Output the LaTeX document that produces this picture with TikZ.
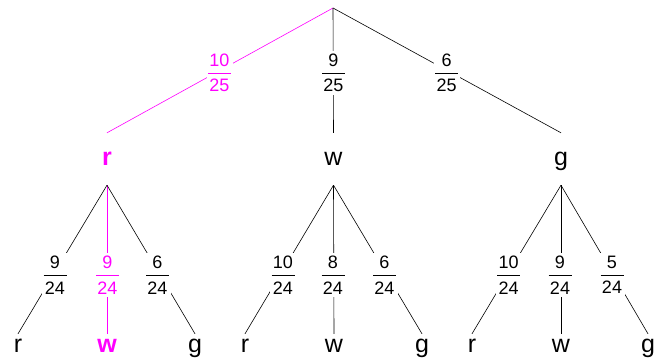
\documentclass[tikz,border=0pt]{standalone}
\usepackage{fontspec}
\setmainfont{Liberation Sans}
\definecolor{mag}{RGB}{255,0,255}
\newcommand\myfrac[2]{\vbox{\hbox to 23pt{\hss#1\hss}\kern6pt\hrule width 23pt height 0.8pt\kern6pt\hbox to 23pt{\hss#2\hss}}}
\begin{document}
\begin{tikzpicture}[x=1pt,y=-1pt,
  lvl/.style={inner sep=0pt, text height=13pt, text depth=0pt, minimum height=52pt, font=\fontsize{25}{30}\selectfont},
  leaf/.style={inner sep=0pt, text height=13pt, text depth=0pt, minimum height=25pt, font=\fontsize{25}{30}\selectfont},
  hl/.style={text=mag, font=\fontsize{25}{30}\selectfont\bfseries},
  fr/.style={fill=white, inner xsep=1.5pt, inner ysep=3pt, font=\fontsize{18}{21}\selectfont},
  ln/.style={line width=0.6pt, draw=black},
  hln/.style={line width=0.6pt, draw=mag}]
\useasboundingbox (0,0) rectangle (665,358);
\coordinate (root) at (333,8);
% level 1
\node[lvl,hl] (r1) at (107,159) {r};
\node[lvl] (w1) at (333.5,159) {w};
\node[lvl] (g1) at (561,159) {g};
% leaves
\node[leaf] (rr) at (18,346.5) {r};
\node[leaf,hl] (rw) at (107,346.5) {w};
\node[leaf] (rg) at (195,346.5) {g};
\node[leaf] (wr) at (245,346.5) {r};
\node[leaf] (ww) at (334,346.5) {w};
\node[leaf] (wg) at (422,346.5) {g};
\node[leaf] (gr) at (472,346.5) {r};
\node[leaf] (gw) at (561,346.5) {w};
\node[leaf] (gg) at (648,346.5) {g};
% connectors
\draw[hln] (root) -- (r1.north);
\draw[ln] (root) -- (w1.north);
\draw[ln] (root) -- (g1.north);
\draw[ln] (r1.south) -- (rr.north);
\draw[hln] (r1.south) -- (rw.north);
\draw[ln] (r1.south) -- (rg.north);
\draw[ln] (w1.south) -- (wr.north);
\draw[ln] (w1.south) -- (ww.north);
\draw[ln] (w1.south) -- (wg.north);
\draw[ln] (g1.south) -- (gr.north);
\draw[ln] (g1.south) -- (gw.north);
\draw[ln] (g1.south) -- (gg.north);
% fractions
\node[fr,text=mag] (f1) at (219.5,73) {\myfrac{10}{25}};
\node[fr] (f2) at (333.5,73) {\myfrac{9}{25}};
\node[fr] (f3) at (446.7,73) {\myfrac{6}{25}};
\node[fr] (fa) at (55,275) {\myfrac{9}{24}};
\node[fr,text=mag] (fb) at (107.5,275) {\myfrac{9}{24}};
\node[fr] (fc) at (157.5,275) {\myfrac{6}{24}};
\node[fr] (fd) at (283,275) {\myfrac{10}{24}};
\node[fr] (fe) at (333,275) {\myfrac{8}{24}};
\node[fr] (ff) at (384.5,275) {\myfrac{6}{24}};
\node[fr] (fg) at (508.7,275) {\myfrac{10}{24}};
\node[fr] (fh) at (560,275) {\myfrac{9}{24}};
\node[fr] (fi) at (612,275) {\myfrac{5}{24}};
\end{tikzpicture}
\end{document}
